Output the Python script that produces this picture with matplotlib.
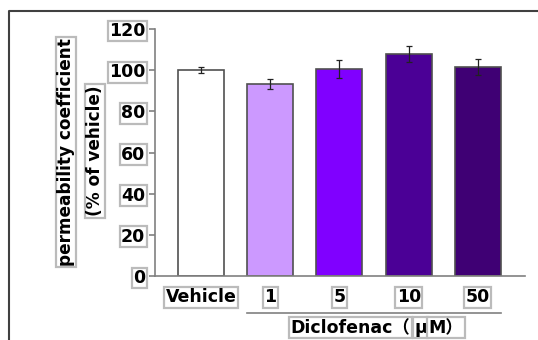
import matplotlib.pyplot as plt
from matplotlib.lines import Line2D
import matplotlib.transforms as mtransforms

plt.rcParams['font.family'] = ['DejaVu Sans', 'Noto Sans CJK JP']

# ==========================================
# DATA
# ==========================================

groups = ["Vehicle", "1", "5", "10", "50"]
values = [100.0, 93.2, 100.5, 108.0, 101.6]
errors = [1.6, 2.3, 4.3, 3.9, 4.0]
bar_colors = ['#FFFFFF', '#CC99FF', '#8000FF', '#4B0096', '#3F0074']

yticks = [0, 20, 40, 60, 80, 100, 120]
ylabel_1 = "permeability coefficient"
ylabel_2 = "(% of vehicle)"
group_label = ["Diclofenac（", "μ", "M）"]


box = dict(boxstyle='square,pad=0.08', fc='white', ec='#BBBBBB', lw=1.6)

fig = plt.figure(figsize=(5.38, 3.4), dpi=100)

ax = fig.add_axes([155 / 538, 1 - 276 / 340, 370 / 538, 247 / 340])

x = list(range(len(groups)))

ax.bar(
    x,
    values,
    width=0.664,
    color=bar_colors,
    edgecolor='#505050',
    linewidth=1.2,
    zorder=2
)

ax.errorbar(
    x,
    values,
    yerr=errors,
    fmt='none',
    ecolor='#222222',
    elinewidth=0.9,
    capsize=2.5,
    capthick=0.9,
    zorder=3
)

ax.set_xlim(-0.664, 4.679)
ax.set_ylim(0, 120)

for side in ['top', 'right']:
    ax.spines[side].set_visible(False)

for side in ['left', 'bottom']:
    ax.spines[side].set_color('#808080')
    ax.spines[side].set_linewidth(1.2)

ax.set_yticks(yticks)
ax.set_yticklabels([str(t) for t in yticks], fontsize=12.5, fontweight='bold')
ax.tick_params(axis='y', length=4, width=1.2, color='#808080', pad=3)

for lbl in ax.get_yticklabels():
    lbl.set_bbox(box)

ax.set_xticks(x)
ax.set_xticklabels(groups, fontsize=12.5, fontweight='bold')
ax.tick_params(axis='x', length=0, pad=9)

for lbl in ax.get_xticklabels():
    lbl.set_bbox(box)


# GROUP LINE UNDER DICLOFENAC

trans = mtransforms.blended_transform_factory(ax.transData, ax.transAxes)

ax.plot(
    [0.668, 4.332],
    [-0.15, -0.15],
    color='#808080',
    linewidth=1.2,
    transform=trans,
    clip_on=False
)

t1 = ax.text(
    3.02,
    -0.21,
    group_label[0],
    transform=trans,
    ha='right',
    va='center',
    fontsize=12.5,
    fontweight='bold',
    bbox=box
)

t2 = ax.annotate(
    group_label[1],
    xy=(1, 0.5),
    xycoords=t1,
    xytext=(3, 0),
    textcoords='offset points',
    ha='left',
    va='center',
    fontsize=12.5,
    fontweight='bold',
    bbox=box
)

t3 = ax.annotate(
    group_label[2],
    xy=(1, 0.5),
    xycoords=t2,
    xytext=(1, 0),
    textcoords='offset points',
    ha='left',
    va='center',
    fontsize=12.5,
    fontweight='bold',
    bbox=box
)


# Y LABEL (TWO BOXES)

fig.text(
    66 / 538,
    1 - 152 / 340,
    ylabel_1,
    rotation=90,
    ha='center',
    va='center',
    fontsize=12.2,
    fontweight='bold',
    bbox=box
)

fig.text(
    95 / 538,
    1 - 151 / 340,
    ylabel_2,
    rotation=90,
    ha='center',
    va='center',
    fontsize=12.2,
    fontweight='bold',
    bbox=box
)


# OUTER FRAME

fig.add_artist(Line2D(
    [9 / 538, 9 / 538, 1.0],
    [0.0, 1 - 11 / 340, 1 - 11 / 340],
    transform=fig.transFigure,
    color='#404040',
    linewidth=1.5
))

fig.savefig("out.png", dpi=100)
